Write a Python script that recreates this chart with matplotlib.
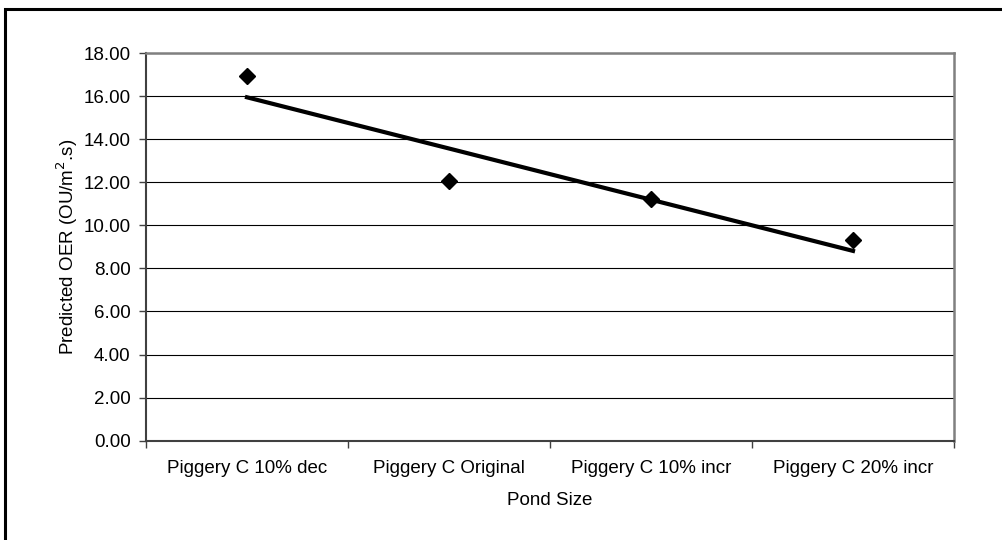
import numpy as np
import matplotlib.pyplot as plt
from matplotlib.patches import Rectangle

plt.rcParams['font.family'] = ['Liberation Sans', 'DejaVu Sans']

categories = ['Piggery C 10% dec', 'Piggery C Original', 'Piggery C 10% incr', 'Piggery C 20% incr']
oer = [16.93, 12.08, 11.2, 9.3]

x = np.arange(1, len(categories) + 1)
# linear trendline (least squares), as in the spreadsheet
slope, icpt = np.polyfit(x, oer, 1)

fig = plt.figure(figsize=(10.02, 5.4), dpi=100)
ax = fig.add_axes([146 / 1002, 1 - 440.7 / 540, (954 - 146) / 1002, (440.7 - 53) / 540])

# outer chart border (right/bottom fall off the picture)
fig.patches.append(Rectangle((5 / 1002, -0.05), 1.1, 1 - 9 / 540 + 0.05, transform=fig.transFigure,
                             fill=False, edgecolor='black', lw=2.2, zorder=0))

fs = 13.5
ax.set_ylim(0, 18)
ax.set_xlim(0.5, len(categories) + 0.5)
ax.set_yticks(np.arange(0, 18.1, 2))
ax.set_yticklabels(['%.2f' % v for v in np.arange(0, 18.1, 2)])
ax.yaxis.grid(True, color='black', lw=0.8)
ax.set_axisbelow(True)

ax.set_xticks(x)
ax.set_xticklabels(categories)
ax.set_xticks(np.arange(0.5, len(categories) + 1), minor=True)
ax.tick_params(axis='x', which='major', length=0, pad=14, labelsize=fs)
ax.tick_params(axis='x', which='minor', length=5, width=1, color='#404040')
ax.tick_params(axis='y', length=5, width=1, color='#404040', labelsize=fs, pad=6)

for s in ['left', 'bottom']:
    ax.spines[s].set_color('#404040')
    ax.spines[s].set_linewidth(1.5)
for s in ['top', 'right']:
    ax.spines[s].set_color('#808080')
    ax.spines[s].set_linewidth(1.8)

ax.plot(x, oer, linestyle='none', marker='D', ms=8.5, color='black', zorder=3)
ax.plot([x[0], x[-1]], [icpt + slope * x[0], icpt + slope * x[-1]], color='black', lw=3, zorder=2)

ax.set_ylabel('Predicted OER (OU/m$^2$.s)', fontsize=fs)
ax.set_xlabel('Pond Size', fontsize=fs)
ax.yaxis.set_label_coords(-0.098, 0.5)
ax.xaxis.set_label_coords(0.5, -0.154)
ax.xaxis.label.set_va('center')
ax.yaxis.label.set_va('center')

fig.savefig('out.png', dpi=100)
